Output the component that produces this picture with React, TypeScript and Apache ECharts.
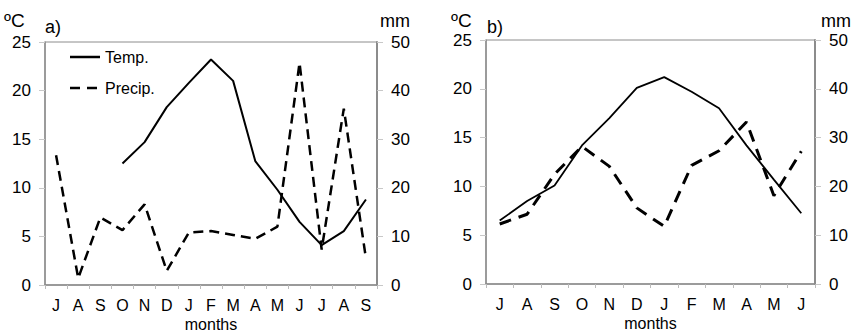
import React, { useEffect, useRef } from "react";
import * as echarts from "echarts";

const monthsA = ["J", "A", "S", "O", "N", "D", "J", "F", "M", "A", "M", "J", "J", "A", "S"];
const monthsB = ["J", "A", "S", "O", "N", "D", "J", "F", "M", "A", "M", "J"];

const tempA = [null, null, null, 12.5, 14.7, 18.3, 20.8, 23.2, 21.0, 12.75, 9.8, 6.5, 4.1, 5.55, 8.8];
const precipA = [26.7, 1.4, 13.9, 11.3, 16.6, 2.9, 10.8, 11.1, 10.3, 9.5, 12.0, 45.7, 7.3, 36.3, 5.5];

const tempB = [6.5, 8.5, 10.1, 14.2, 17.0, 20.1, 21.2, 19.7, 18.0, 14.2, 10.7, 7.25];
const precipB = [12.3, 14.3, 22.5, 28.2, 24.1, 15.6, 11.8, 24.3, 27.3, 33.2, 18.1, 27.2];

const tempTicks = [0, 25, 5];
const precipTicks = [0, 50, 10];

const FONT = "'Liberation Sans', Arial, sans-serif";
const GRAY = "#8c8c8c";

function xAxisDef(grid: number, data: string[]) {
  return {
    type: "category",
    gridIndex: grid,
    data,
    boundaryGap: true,
    name: "months",
    nameLocation: "middle",
    nameGap: 31,
    nameMoveOverlap: false,
    nameTextStyle: { fontSize: 16, color: "#000", fontFamily: FONT, lineHeight: 16 },
    axisLine: { lineStyle: { color: GRAY, width: 1.5 } },
    axisTick: { show: true, length: 4, lineStyle: { color: "#bbb" } },
    axisLabel: { fontSize: 16, color: "#000", fontFamily: FONT, margin: 12, interval: 0, lineHeight: 16 },
    splitLine: { show: false },
  };
}

function yAxisDef(grid: number, pos: string, ticks: number[], lineW: number) {
  return {
    type: "value",
    gridIndex: grid,
    position: pos,
    min: ticks[0],
    max: ticks[1],
    interval: ticks[2],
    axisLine: { show: true, lineStyle: { color: GRAY, width: lineW } },
    axisTick: { show: true, length: 6, lineStyle: { color: "#c8c8c8" } },
    axisLabel: { fontSize: 17, color: "#000", fontFamily: FONT, margin: 14 },
    splitLine: { show: false },
  };
}

function txt(x: number, y: number, text: string, size: number) {
  return {
    type: "text",
    x,
    y,
    style: { text, fontSize: size, fontFamily: FONT, fill: "#000", textVerticalAlign: "middle" },
  };
}

export default function App() {
  const ref = useRef<HTMLDivElement>(null);
  useEffect(() => {
    document.body.style.margin = "0";
    const chart = echarts.init(ref.current!, null, { renderer: "svg" });
    chart.setOption({
      animation: false,
      backgroundColor: "#fff",
      grid: [
        {
          left: 45, right: 479, top: 42, bottom: 50,
          show: true, borderColor: GRAY, borderWidth: 1,
          outerBoundsMode: "none", containLabel: false,
        },
        {
          left: 486, right: 41, top: 40, bottom: 51,
          show: true, borderColor: GRAY, borderWidth: 1,
          outerBoundsMode: "none", containLabel: false,
        },
      ],
      xAxis: [xAxisDef(0, monthsA), xAxisDef(1, monthsB)],
      yAxis: [
        yAxisDef(0, "left", tempTicks, 1.5),
        yAxisDef(0, "right", precipTicks, 2),
        yAxisDef(1, "left", tempTicks, 1.5),
        yAxisDef(1, "right", precipTicks, 2),
      ],
      series: [
        {
          name: "Temp.",
          type: "line",
          xAxisIndex: 0,
          yAxisIndex: 0,
          data: tempA,
          symbol: "none",
          lineStyle: { color: "#000", width: 2 },
        },
        {
          name: "Precip.",
          type: "line",
          xAxisIndex: 0,
          yAxisIndex: 1,
          data: precipA,
          symbol: "none",
          lineStyle: { color: "#000", width: 2.5, type: [10, 6] },
        },
        {
          name: "Temp.",
          type: "line",
          xAxisIndex: 1,
          yAxisIndex: 2,
          data: tempB,
          symbol: "none",
          lineStyle: { color: "#000", width: 1.8 },
        },
        {
          name: "Precip.",
          type: "line",
          xAxisIndex: 1,
          yAxisIndex: 3,
          data: precipB,
          symbol: "none",
          lineStyle: { color: "#000", width: 3, type: [12, 8] },
        },
      ],
      graphic: [
        txt(4, 20, "ºC", 19),
        txt(45, 27, "a)", 18),
        txt(380, 21, "mm", 18),
        txt(451, 20, "ºC", 19),
        txt(487, 27, "b)", 18),
        txt(821, 21, "mm", 18),
        { type: "line", shape: { x1: 70, y1: 57, x2: 100, y2: 57 }, style: { stroke: "#000", lineWidth: 2.5 } },
        txt(105, 57, "Temp.", 16),
        {
          type: "line",
          shape: { x1: 70, y1: 88, x2: 100, y2: 88 },
          style: { stroke: "#000", lineWidth: 2.5, lineDash: [10, 7] },
        },
        txt(105, 88, "Precip.", 16),
      ],
    });
    return () => chart.dispose();
  }, []);
  return <div ref={ref} style={{ width: 856, height: 335 }} />;
}
